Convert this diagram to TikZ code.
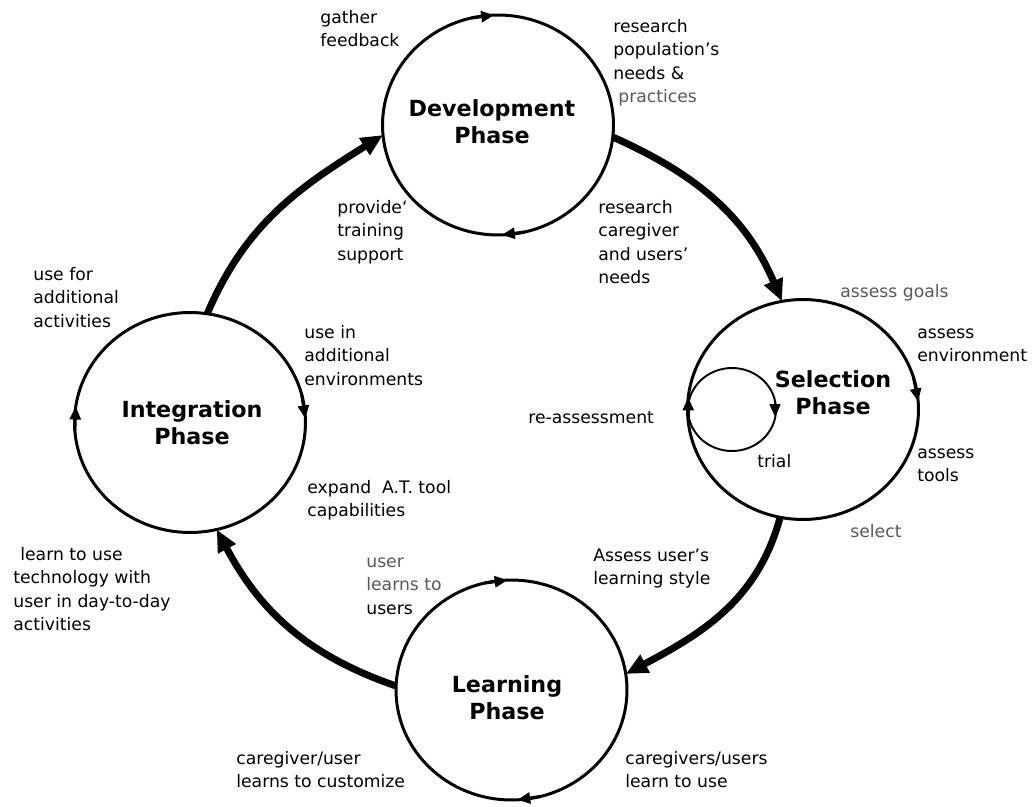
\documentclass[tikz,border=0pt]{standalone}
\usepackage{fontspec}
\setmainfont{DejaVu Sans}
\usetikzlibrary{arrows.meta,shapes.geometric}
\begin{document}
\begin{tikzpicture}[x=0.02cm,y=0.02cm]
\tikzset{
 phase/.style={ellipse, draw, line width=1.7pt, minimum width=4.62cm, minimum height=4.40cm, inner sep=0pt, outer sep=0pt},
 loopc/.style={ellipse, draw, line width=1.1pt, minimum width=1.76cm, minimum height=1.66cm, inner sep=0pt, outer sep=0pt},
 phasetitle/.style={font=\fontsize{12.65pt}{15.3pt}\selectfont\bfseries, align=center, inner sep=0pt},
 lbl/.style={font=\fontsize{9.8pt}{13.4pt}\selectfont, align=left, anchor=north west, inner sep=0pt},
 bigflow/.style={line width=4pt, -{Triangle[length=12.5pt,width=10.8pt]}},
 cwtip/.style={line width=1.7pt, -{Triangle[length=7.4pt,width=6.2pt]}},
 greytxt/.style={text=black!65}
}
\useasboundingbox (0,0) rectangle (1033,806);
\fill[white] (0,0) rectangle (1033,806);

% phase circles
\node[phase] (dev) at (498,681) {};
\node[phase] (sel) at (803,396.5) {};
\node[phase] (int) at (190,383.5) {};
\node[phase] (lrn) at (511.5,116) {};
\node[loopc] (loop) at (732,396.5) {};

% titles
\node[phasetitle] (devt) at (492,684) {Development\\Phase};
\node[phasetitle] (selt) at (833,413) {Selection\\Phase};
\node[phasetitle] (intt) at (192,383) {Integration\\Phase};
\node[phasetitle] (lrnt) at (507,108) {Learning\\Phase};

% main cycle connectors
\draw[bigflow] (int.81) to[out=67,in=212] (dev.185);
\draw[bigflow] (dev.-6) to[out=-24,in=113] (sel.101);
\draw[bigflow] (sel.258) to[out=255,in=28] (lrn.8);
\draw[bigflow] (lrn.178) to[out=161,in=298] (int.284);

% small clockwise arrow tips on the circles
\draw[cwtip] (dev.104) -- (dev.92);
\draw[cwtip] (dev.284) -- (dev.272);
\draw[cwtip] (sel.16) -- (sel.4);
\draw[cwtip] (sel.186) -- (sel.174);
\draw[cwtip, line width=1.1pt] (loop.12) -- (loop.-10);
\draw[cwtip] (int.184) -- (int.172);
\draw[cwtip] (int.14) -- (int.2);
\draw[cwtip] (lrn.104) -- (lrn.92);
\draw[cwtip] (lrn.285) -- (lrn.273);

% labels
\node[lbl] (l1) at (320,799.6) {\strut gather\\feedback};
\node[lbl] (l2) at (613,790.6) {\strut research\\population’s\\needs \&\\\textcolor{black!65}{\hspace*{0.1cm}practices}};
\node[lbl] (l3) at (337,609.6) {\strut provide`\\training\\support};
\node[lbl] (l4) at (598,609.6) {\strut research\\caregiver\\and users’\\needs};
\node[lbl, greytxt] (l5) at (840,525.6) {\strut assess goals};
\node[lbl] (l6) at (917,484.6) {\strut assess\\environment};
\node[lbl] (l7) at (528,399.6) {\strut re-assessment};
\node[lbl] (l8) at (757,355.6) {\strut trial};
\node[lbl] (l9) at (917,364.6) {\strut assess\\tools};
\node[lbl, greytxt] (l10) at (850,285.6) {\strut select};
\node[lbl] (l11) at (593,261.6) {\strut Assess user’s\\learning style};
\node[lbl] (l12) at (33,542.6) {\strut use for\\additional\\activities};
\node[lbl] (l13) at (304,484.6) {\strut use in\\additional\\environments};
\node[lbl] (l14) at (307,329.6) {\strut expand~ A.T. tool\\capabilities};
\node[lbl] (l15) at (13,262.6) {\strut\hspace*{0.14cm}learn to use\\technology with\\user in day-to-day\\activities};
\node[lbl] (l16) at (366,255.6) {\strut\textcolor{black!65}{user}\\\textcolor{black!65}{learns to}\\users};
\node[lbl] (l17) at (236,58.6) {\strut caregiver/user\\learns to customize};
\node[lbl] (l18) at (625,58.6) {\strut caregivers/users\\learn to use};
\end{tikzpicture}
\end{document}
